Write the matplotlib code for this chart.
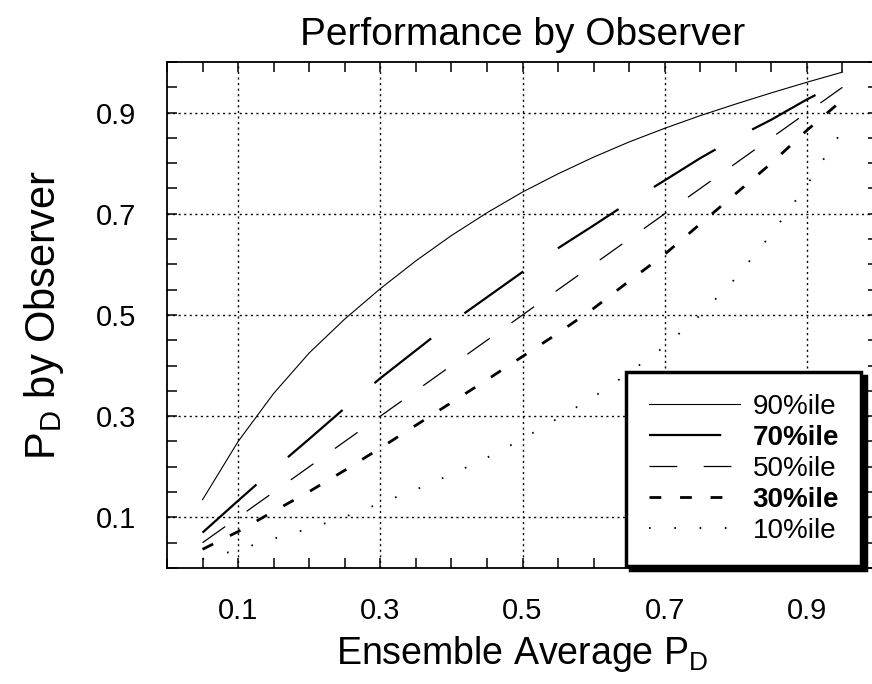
import matplotlib
matplotlib.use('Agg')
import matplotlib.pyplot as plt
from matplotlib.ticker import MultipleLocator

plt.rcParams['font.family'] = ['Liberation Sans', 'DejaVu Sans']
plt.rcParams['mathtext.fontset'] = 'custom'
plt.rcParams['mathtext.rm'] = 'Liberation Sans'
plt.rcParams['lines.scale_dashes'] = False

# ensemble average P_D (x) and percentile curves
ens_pd = [0.05, 0.10, 0.15, 0.20, 0.25, 0.30, 0.35, 0.40, 0.45, 0.50,
          0.55, 0.60, 0.65, 0.70, 0.75, 0.80, 0.85, 0.90, 0.95]
p90 = [0.135, 0.25, 0.345, 0.425, 0.492, 0.552, 0.607, 0.657, 0.702, 0.743,
       0.779, 0.812, 0.842, 0.869, 0.894, 0.917, 0.939, 0.96, 0.98]
p70 = [0.07, 0.133, 0.195, 0.255, 0.316, 0.375, 0.43, 0.485, 0.535, 0.585,
       0.632, 0.677, 0.723, 0.766, 0.81, 0.85, 0.886, 0.926, 0.962]
p50 = [0.05, 0.10, 0.15, 0.20, 0.25, 0.30, 0.35, 0.40, 0.45, 0.50,
       0.55, 0.60, 0.65, 0.70, 0.75, 0.80, 0.85, 0.90, 0.95]
p30 = [0.037, 0.072, 0.112, 0.151, 0.193, 0.237, 0.282, 0.327, 0.372, 0.418,
       0.464, 0.513, 0.567, 0.62, 0.68, 0.74, 0.80, 0.865, 0.925]
p10 = [0.018, 0.036, 0.058, 0.078, 0.101, 0.128, 0.155, 0.185, 0.218, 0.255,
       0.296, 0.338, 0.386, 0.438, 0.50, 0.573, 0.66, 0.757, 0.865]

labels = ['90%ile', '70%ile', '50%ile', '30%ile', '10%ile']
ticks = [0.1, 0.3, 0.5, 0.7, 0.9]

fig = plt.figure(figsize=(8.72, 6.84), dpi=100)
ax = fig.add_axes([167 / 872, 116 / 684, 711 / 872, 506 / 684])

ax.plot(ens_pd, p90, color='black', lw=0.8, label=labels[0])
ax.plot(ens_pd, p70, color='black', lw=1.6, dashes=(52, 30), label=labels[1])
ax.plot(ens_pd, p50, color='black', lw=0.9, dashes=(20, 19), label=labels[2])
ax.plot(ens_pd, p30, color='black', lw=2.0, dashes=(8.5, 13.5), label=labels[3])
ax.plot(ens_pd, p10, color='black', lw=1.3, dashes=(1.2, 17), label=labels[4])

ax.set_xlim(0, 1)
ax.set_ylim(0, 1)
ax.set_xticks(ticks)
ax.set_yticks(ticks)
ax.xaxis.set_minor_locator(MultipleLocator(0.05))
ax.yaxis.set_minor_locator(MultipleLocator(0.05))
ax.tick_params(which='both', direction='in', top=True, right=True,
               length=7, width=1.1, labelsize=21)
ax.tick_params(axis='y', pad=22)
ax.tick_params(axis='x', pad=21)
ax.grid(True, which='major', color='black', linestyle=(0, (1.5, 2.5)), lw=1)
for s in ax.spines.values():
    s.set_linewidth(1.3)

ax.set_title('Performance by Observer', fontsize=28, pad=12)
ax.set_xlabel(r'Ensemble Average P$_\mathregular{D}$', fontsize=27, labelpad=6)
ax.set_ylabel(r'P$_\mathregular{D}$ by Observer', fontsize=30, labelpad=22)

leg = ax.legend(loc='lower left', bbox_to_anchor=(0.646, 0.004), borderaxespad=0,
                fontsize=20, handlelength=3.3, handletextpad=0.45,
                labelspacing=0.18, borderpad=0.8, fancybox=False,
                framealpha=1, edgecolor='black',
                shadow={'color': 'black', 'alpha': 1, 'ox': 3, 'oy': -3})
leg.get_frame().set_linewidth(2.5)
for i in (1, 3):
    leg.get_texts()[i].set_fontweight('bold')

fig.savefig('out.png', dpi=100)
